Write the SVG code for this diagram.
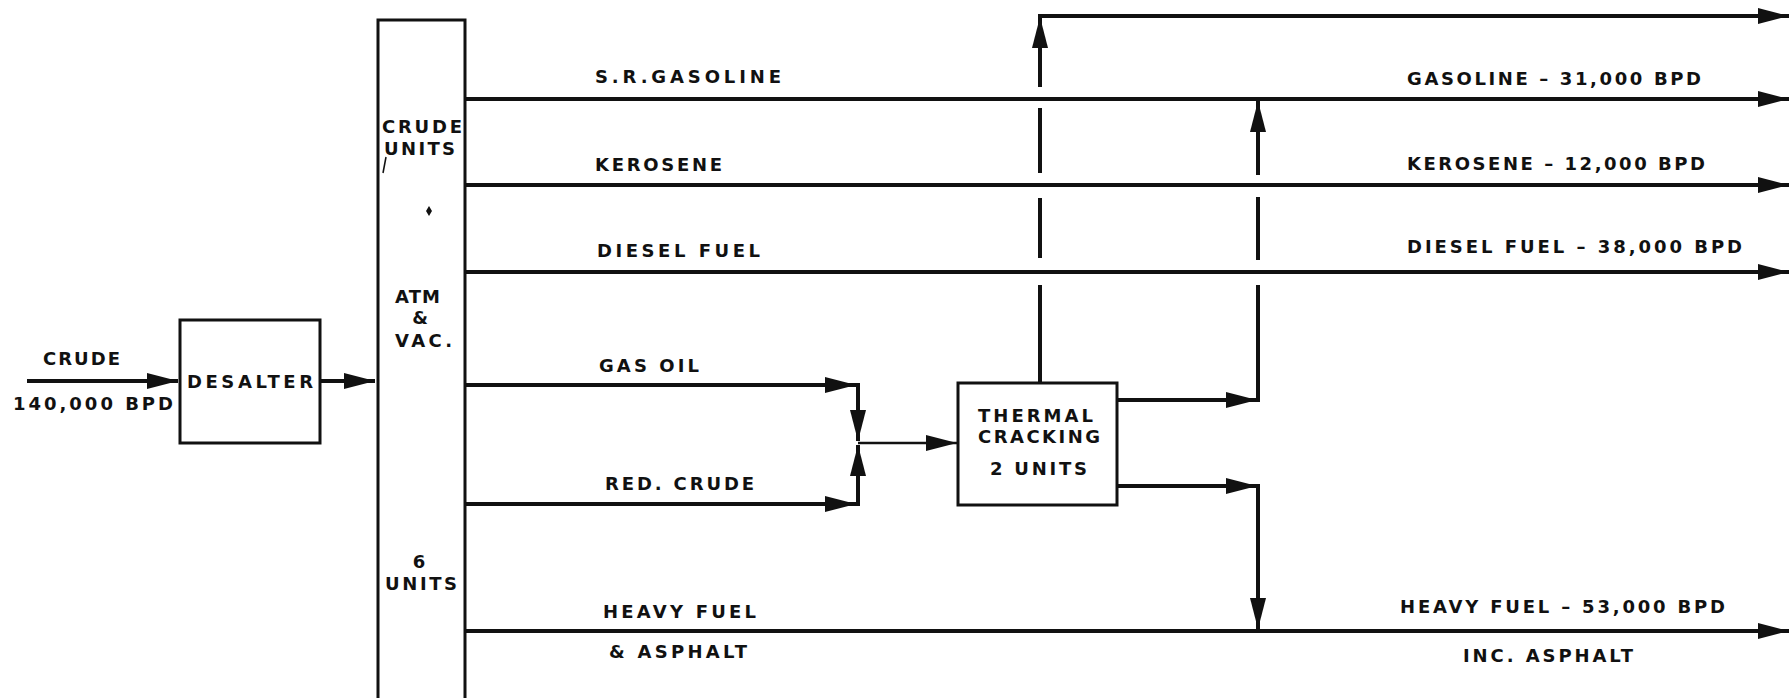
<svg xmlns="http://www.w3.org/2000/svg" width="1791" height="698" viewBox="0 0 1791 698">
<style>
  text { font-family: "DejaVu Sans", "Liberation Sans", sans-serif; font-weight: bold; font-size: 18px; fill: #111; }
  .box { fill: #fff; stroke: #111; stroke-width: 3; }
  .ln { fill: none; stroke: #111; stroke-width: 4; }
  .thin { fill: none; stroke: #111; stroke-width: 2.6; }
</style>
<defs>
  <marker id="ah" markerUnits="userSpaceOnUse" markerWidth="34" markerHeight="18" refX="31" refY="8" orient="auto" overflow="visible">
    <path d="M0,0 L31,8 L0,16 Z" fill="#111"/>
  </marker>
</defs>
<rect width="1791" height="698" fill="#fff"/>

<g id="connectors">
  <!-- crude input -->
  <line class="ln" x1="27" y1="381" x2="178" y2="381" marker-end="url(#ah)"/>
  <!-- desalter to crude units -->
  <line class="ln" x1="320" y1="381" x2="375" y2="381" marker-end="url(#ah)"/>
  <!-- product lines -->
  <line class="ln" x1="465" y1="99" x2="1789" y2="99" marker-end="url(#ah)"/>
  <line class="ln" x1="465" y1="185" x2="1789" y2="185" marker-end="url(#ah)"/>
  <line class="ln" x1="465" y1="272" x2="1789" y2="272" marker-end="url(#ah)"/>
  <line class="ln" x1="465" y1="631" x2="1789" y2="631" marker-end="url(#ah)"/>
  <!-- gas oil / red crude to thermal cracking -->
  <line class="ln" x1="465" y1="385" x2="856" y2="385" marker-end="url(#ah)"/>
  <line class="ln" x1="465" y1="504" x2="856" y2="504" marker-end="url(#ah)"/>
  <line class="ln" x1="858" y1="383" x2="858" y2="441" marker-end="url(#ah)"/>
  <line class="ln" x1="858" y1="506" x2="858" y2="445" marker-end="url(#ah)"/>
  <line class="thin" x1="858" y1="443" x2="957" y2="443" marker-end="url(#ah)"/>
  <!-- thermal cracking top output -->
  <line class="ln" x1="1040" y1="383" x2="1040" y2="285"/>
  <line class="ln" x1="1040" y1="258" x2="1040" y2="198"/>
  <line class="ln" x1="1040" y1="173" x2="1040" y2="108"/>
  <line class="ln" x1="1040" y1="87" x2="1040" y2="17" marker-end="url(#ah)"/>
  <line class="ln" x1="1038" y1="16" x2="1789" y2="16" marker-end="url(#ah)"/>
  <!-- thermal cracking upper side output -->
  <line class="ln" x1="1117" y1="400" x2="1257" y2="400" marker-end="url(#ah)"/>
  <line class="ln" x1="1258" y1="402" x2="1258" y2="285"/>
  <line class="ln" x1="1258" y1="260" x2="1258" y2="197"/>
  <line class="ln" x1="1258" y1="175" x2="1258" y2="101" marker-end="url(#ah)"/>
  <!-- thermal cracking lower side output -->
  <line class="ln" x1="1117" y1="486" x2="1257" y2="486" marker-end="url(#ah)"/>
  <line class="ln" x1="1258" y1="484" x2="1258" y2="629" marker-end="url(#ah)"/>
</g>

<g id="desalter">
  <rect class="box" x="180" y="320" width="140" height="123"/>
  <text x="187" y="388" textLength="126" lengthAdjust="spacing">DESALTER</text>
</g>

<g id="crude-units">
  <path d="M378,702 L378,20 L465,20 L465,702" fill="none" stroke="#111" stroke-width="3"/>
  <text x="382" y="133" textLength="80" lengthAdjust="spacing">CRUDE</text>
  <text x="384" y="155" textLength="71" lengthAdjust="spacing">UNITS</text>
  <path d="M386,157 L383,173" stroke="#111" stroke-width="1.5"/>
  <path d="M429,206 L432,211 L429,216 L426,211 Z" fill="#111"/>
  <text x="395" y="303" textLength="45" lengthAdjust="spacing">ATM</text>
  <text x="420" y="324" text-anchor="middle">&amp;</text>
  <text x="395" y="347" textLength="57" lengthAdjust="spacing">VAC.</text>
  <text x="419" y="568" text-anchor="middle">6</text>
  <text x="385" y="590" textLength="72" lengthAdjust="spacing">UNITS</text>
</g>

<g id="thermal-cracking">
  <rect class="box" x="958" y="383" width="159" height="122"/>
  <text x="978" y="422" textLength="115" lengthAdjust="spacing">THERMAL</text>
  <text x="978" y="443" textLength="122" lengthAdjust="spacing">CRACKING</text>
  <text x="990" y="475" textLength="97" lengthAdjust="spacing">2 UNITS</text>
</g>

<g id="labels">
  <text x="43" y="365" textLength="77" lengthAdjust="spacing">CRUDE</text>
  <text x="13" y="410" textLength="160" lengthAdjust="spacing">140,000 BPD</text>
  <text x="595" y="83" textLength="186" lengthAdjust="spacing">S.R.GASOLINE</text>
  <text x="595" y="171" textLength="127" lengthAdjust="spacing">KEROSENE</text>
  <text x="597" y="257" textLength="163" lengthAdjust="spacing">DIESEL FUEL</text>
  <text x="599" y="372" textLength="100" lengthAdjust="spacing">GAS OIL</text>
  <text x="605" y="490" textLength="149" lengthAdjust="spacing">RED. CRUDE</text>
  <text x="603" y="618" textLength="153" lengthAdjust="spacing">HEAVY FUEL</text>
  <text x="609" y="658" textLength="138" lengthAdjust="spacing">&amp; ASPHALT</text>
  <text x="1407" y="85" textLength="294" lengthAdjust="spacing">GASOLINE – 31,000 BPD</text>
  <text x="1407" y="170" textLength="298" lengthAdjust="spacing">KEROSENE – 12,000 BPD</text>
  <text x="1407" y="253" textLength="335" lengthAdjust="spacing">DIESEL FUEL – 38,000 BPD</text>
  <text x="1400" y="613" textLength="325" lengthAdjust="spacing">HEAVY FUEL – 53,000 BPD</text>
  <text x="1463" y="662" textLength="170" lengthAdjust="spacing">INC. ASPHALT</text>
</g>
</svg>
